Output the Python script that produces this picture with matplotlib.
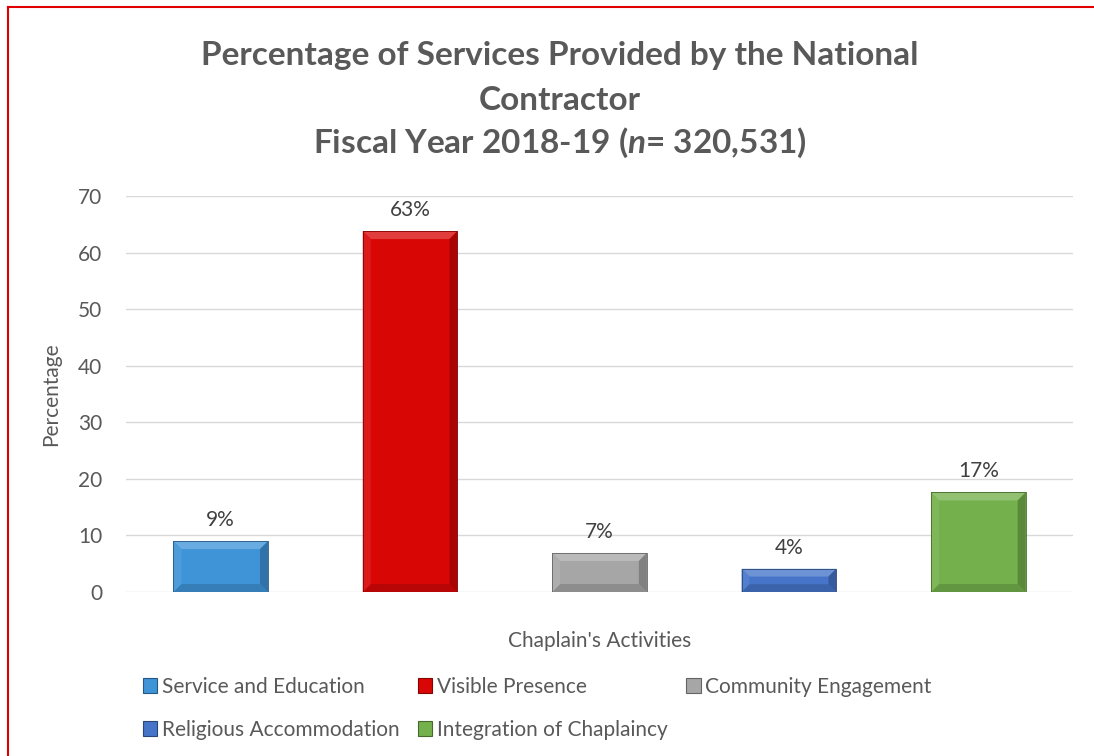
import numpy as np
import matplotlib.pyplot as plt
from matplotlib.patches import Polygon, Patch
from matplotlib.lines import Line2D
from matplotlib.colors import to_rgb

# Data
categories = ['Service and Education', 'Visible Presence', 'Community Engagement',
              'Religious Accommodation', 'Integration of Chaplaincy']
values = [9.0, 63.8, 6.9, 4.1, 17.6]
value_labels = ['9%', '63%', '7%', '4%', '17%']
colors = ['#3f94d8', '#d90606', '#a6a6a6', '#4574c9', '#74b04c']
yticks = [0, 10, 20, 30, 40, 50, 60, 70]

plt.rcParams['font.family'] = ['Lato', 'DejaVu Sans']
plt.rcParams['mathtext.fontset'] = 'custom'
plt.rcParams['mathtext.it'] = 'Lato:bold:italic'
plt.rcParams['mathtext.rm'] = 'Lato:bold'

text_gray = '#595959'
W, H = 1094, 756
fig = plt.figure(figsize=(W / 100, H / 100), dpi=100)
ax = fig.add_axes([126 / W, 1 - 592 / H, (1073 - 126) / W, (592 - 196) / H])

x = np.arange(len(categories))
bar_w = 0.5
ax.bar(x, values, width=bar_w, color=colors, zorder=2)
ax.set_xlim(-0.5, len(categories) - 0.5)
ax.set_ylim(0, 70)

# bevel effect on each bar
px_x = (1073 - 126) / len(categories)
px_y = (592 - 196) / 70.0


def shade(c, f):
    r, g, b = to_rgb(c)
    if f > 0:
        return (r + (1 - r) * f, g + (1 - g) * f, b + (1 - b) * f)
    return (r * (1 + f), g * (1 + f), b * (1 + f))


for xi, v, c in zip(x, values, colors):
    bpx = min(8, v * px_y / 3)
    dx, dy = bpx / px_x, bpx / px_y
    l, r = xi - bar_w / 2, xi + bar_w / 2
    ax.add_patch(Polygon([(l, v), (r, v), (r - dx, v - dy), (l + dx, v - dy)],
                         color=shade(c, 0.22), lw=0, zorder=3))
    ax.add_patch(Polygon([(l, 0), (r, 0), (r - dx, dy), (l + dx, dy)],
                         color=shade(c, -0.15), lw=0, zorder=3))
    ax.add_patch(Polygon([(l, 0), (l, v), (l + dx, v - dy), (l + dx, dy)],
                         color=shade(c, 0.08), lw=0, zorder=3))
    ax.add_patch(Polygon([(r, 0), (r, v), (r - dx, v - dy), (r - dx, dy)],
                         color=shade(c, -0.22), lw=0, zorder=3))
    ax.plot([l, l, r, r], [0, v, v, 0], color=shade(c, -0.4), lw=0.6, zorder=4)

for xi, v, lab in zip(x, values, value_labels):
    ax.annotate(lab, (xi, v), xytext=(0, 8), textcoords='offset points',
                ha='center', va='bottom', fontsize=15, color='#404040')

ax.set_yticks(yticks)
ax.set_xticks([])
ax.tick_params(axis='y', length=0, labelsize=15, labelcolor=text_gray, pad=17)
ax.grid(axis='y', color='#d9d9d9', lw=1, zorder=0)
for s in ax.spines.values():
    s.set_visible(False)
ax.set_ylabel('Percentage', fontsize=15, color=text_gray, labelpad=12)
ax.set_xlabel("Chaplain's Activities", fontsize=15, color=text_gray, labelpad=28)

# title
fig.text(0.512, 1 - 55 / H, 'Percentage of Services Provided by the National',
         ha='center', va='center', fontsize=24, fontweight='bold', color=text_gray)
fig.text(0.512, 1 - 100 / H, 'Contractor',
         ha='center', va='center', fontsize=24, fontweight='bold', color=text_gray)
fig.text(0.512, 1 - 143 / H, r'Fiscal Year 2018-19 ($\mathit{n}$= 320,531)',
         ha='center', va='center', fontsize=24, fontweight='bold', color=text_gray)

# legend, row-major order
handles = [Patch(facecolor=c, edgecolor=shade(c, -0.4), lw=0.8) for c in colors]
order = [0, 3, 1, 4, 2]
fig.legend([handles[i] for i in order], [categories[i] for i in order],
           ncol=3, loc='upper left', bbox_to_anchor=(124 / W, 1 - 658 / H),
           frameon=False, fontsize=15, labelcolor=text_gray,
           handlelength=0.7, handleheight=0.7, handletextpad=0.2,
           columnspacing=0.9, labelspacing=1.1)

# red border (top and left)
fig.add_artist(Line2D([8 / W, 8 / W], [1 - 7 / H, 0], color='#e00000', lw=1.5))
fig.add_artist(Line2D([8 / W, 1], [1 - 7 / H, 1 - 7 / H], color='#e00000', lw=1.5))

fig.savefig('out.png', dpi=100)
